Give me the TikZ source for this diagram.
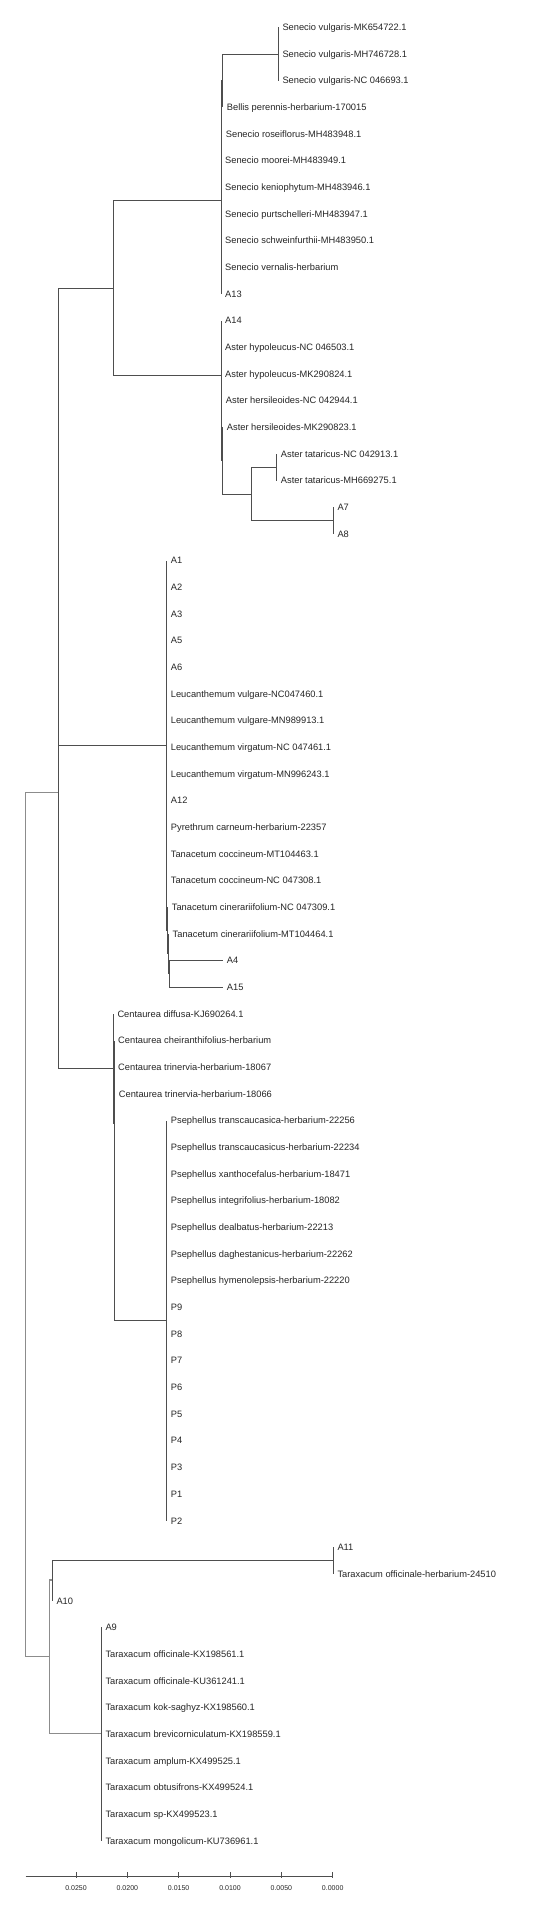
\documentclass[tikz,border=0pt]{standalone}
\usepackage{fontspec}
\setmainfont{Liberation Sans}
\usetikzlibrary{calc}
\definecolor{brc}{RGB}{78,78,78}
\definecolor{rootc}{RGB}{140,140,140}
\definecolor{txc}{RGB}{38,38,38}
\tikzset{
  br/.style={draw=brc, line width=0.9pt},
  rootbr/.style={draw=rootc, line width=1.1pt},
  lab/.style={anchor=base west, inner sep=0pt, text=txc, font=\fontsize{9.3}{11}\selectfont},
  axlab/.style={anchor=base, inner sep=0pt, text=txc, font=\fontsize{7}{8}\selectfont},
}
\newcommand\leaf[3]{%
  \coordinate (t#1) at (#2,{27.33+26.667*#1});
  \node[lab] (l#1) at ($(t#1)+(4,3.3)$) {#3};
}
\begin{document}
\begin{tikzpicture}[x=1pt,y=-1pt]
\fill[white] (0,0) rectangle (541,1932);
\useasboundingbox (0,0) rectangle (541,1932);

% ---- leaves ----
\leaf{0}{278.3}{Senecio vulgaris-MK654722.1}
\leaf{1}{278.3}{Senecio vulgaris-MH746728.1}
\leaf{2}{278.3}{Senecio vulgaris-NC 046693.1}
\leaf{3}{222.7}{Bellis perennis-herbarium-170015}
\leaf{4}{221.7}{Senecio roseiflorus-MH483948.1}
\leaf{5}{221}{Senecio moorei-MH483949.1}
\leaf{6}{221}{Senecio keniophytum-MH483946.1}
\leaf{7}{221}{Senecio purtschelleri-MH483947.1}
\leaf{8}{221}{Senecio schweinfurthii-MH483950.1}
\leaf{9}{221}{Senecio vernalis-herbarium}
\leaf{10}{221}{A13}
\leaf{11}{221}{A14}
\leaf{12}{221}{Aster hypoleucus-NC 046503.1}
\leaf{13}{221}{Aster hypoleucus-MK290824.1}
\leaf{14}{221.7}{Aster hersileoides-NC 042944.1}
\leaf{15}{222.7}{Aster hersileoides-MK290823.1}
\leaf{16}{276.7}{Aster tataricus-NC 042913.1}
\leaf{17}{276.7}{Aster tataricus-MH669275.1}
\leaf{18}{333.3}{A7}
\leaf{19}{333.3}{A8}
\leaf{20}{166.7}{A1}
\leaf{21}{166.7}{A2}
\leaf{22}{166.7}{A3}
\leaf{23}{166.7}{A5}
\leaf{24}{166.7}{A6}
\leaf{25}{166.7}{Leucanthemum vulgare-NC047460.1}
\leaf{26}{166.7}{Leucanthemum vulgare-MN989913.1}
\leaf{27}{166.7}{Leucanthemum virgatum-NC 047461.1}
\leaf{28}{166.7}{Leucanthemum virgatum-MN996243.1}
\leaf{29}{166.7}{A12}
\leaf{30}{166.7}{Pyrethrum carneum-herbarium-22357}
\leaf{31}{166.7}{Tanacetum coccineum-MT104463.1}
\leaf{32}{166.7}{Tanacetum coccineum-NC 047308.1}
\leaf{33}{167.7}{Tanacetum cinerariifolium-NC 047309.1}
\leaf{34}{168.5}{Tanacetum cinerariifolium-MT104464.1}
\leaf{35}{222.7}{A4}
\leaf{36}{222.7}{A15}
\leaf{37}{113.3}{Centaurea diffusa-KJ690264.1}
\leaf{38}{114}{Centaurea cheiranthifolius-herbarium}
\leaf{39}{114}{Centaurea trinervia-herbarium-18067}
\leaf{40}{114.7}{Centaurea trinervia-herbarium-18066}
\leaf{41}{166.7}{Psephellus transcaucasica-herbarium-22256}
\leaf{42}{166.7}{Psephellus transcaucasicus-herbarium-22234}
\leaf{43}{166.7}{Psephellus xanthocefalus-herbarium-18471}
\leaf{44}{166.7}{Psephellus integrifolius-herbarium-18082}
\leaf{45}{166.7}{Psephellus dealbatus-herbarium-22213}
\leaf{46}{166.7}{Psephellus daghestanicus-herbarium-22262}
\leaf{47}{166.7}{Psephellus hymenolepsis-herbarium-22220}
\leaf{48}{166.7}{P9}
\leaf{49}{166.7}{P8}
\leaf{50}{166.7}{P7}
\leaf{51}{166.7}{P6}
\leaf{52}{166.7}{P5}
\leaf{53}{166.7}{P4}
\leaf{54}{166.7}{P3}
\leaf{55}{166.7}{P1}
\leaf{56}{166.7}{P2}
\leaf{57}{333.3}{A11}
\leaf{58}{333.3}{Taraxacum officinale-herbarium-24510}
\leaf{59}{52.3}{A10}
\leaf{60}{101.3}{A9}
\leaf{61}{101.3}{Taraxacum officinale-KX198561.1}
\leaf{62}{101.3}{Taraxacum officinale-KU361241.1}
\leaf{63}{101.3}{Taraxacum kok-saghyz-KX198560.1}
\leaf{64}{101.3}{Taraxacum brevicorniculatum-KX198559.1}
\leaf{65}{101.3}{Taraxacum amplum-KX499525.1}
\leaf{66}{101.3}{Taraxacum obtusifrons-KX499524.1}
\leaf{67}{101.3}{Taraxacum sp-KX499523.1}
\leaf{68}{101.3}{Taraxacum mongolicum-KU736961.1}

% ---- internal nodes ----
\coordinate (V)    at (278.3,54);
\coordinate (N1)   at (222.7,80.7);
\coordinate (N2)   at (221.7,107.3);
\coordinate (N3)   at (221,200.7);
\coordinate (Tat)  at (276.7,467.3);
\coordinate (A78)  at (333.3,520.7);
\coordinate (TA)   at (251,494);
\coordinate (Na)   at (222.7,460.7);
\coordinate (Nb)   at (221.7,430.7);
\coordinate (Nc)   at (221,375.7);
\coordinate (SA)   at (113.7,288.2);
\coordinate (A415) at (169.3,973.3);
\coordinate (Nx)   at (168.5,953.3);
\coordinate (Ny)   at (167.7,930);
\coordinate (Nz)   at (166.7,745);
\coordinate (SAz)  at (58.8,516.6);
\coordinate (Ps)   at (166.7,1320);
\coordinate (Np)   at (114.7,1206.7);
\coordinate (Nq)   at (114,1123.3);
\coordinate (Nr)   at (113.3,1068.3);
\coordinate (Top)  at (58.3,792.5);
\coordinate (A11n) at (333.3,1560);
\coordinate (Ns)   at (52.3,1580);
\coordinate (Tx)   at (101.3,1733.3);
\coordinate (Tt)   at (49.3,1656.7);
\coordinate (Root) at (25.7,1224.6);

% ---- branches ----
\foreach \c in {t0,t1,t2} \draw[br] (V) |- (\c);
\draw[br] (N1) |- (V);  \draw[br] (N1) |- (t3);
\draw[br] (N2) |- (N1); \draw[br] (N2) |- (t4);
\draw[br] (N3) |- (N2);
\foreach \c in {t5,t6,t7,t8,t9,t10} \draw[br] (N3) |- (\c);
\foreach \c in {t16,t17} \draw[br] (Tat) |- (\c);
\foreach \c in {t18,t19} \draw[br] (A78) |- (\c);
\draw[br] (TA) |- (Tat); \draw[br] (TA) |- (A78);
\draw[br] (Na) |- (t15); \draw[br] (Na) |- (TA);
\draw[br] (Nb) |- (t14); \draw[br] (Nb) |- (Na);
\foreach \c in {t11,t12,t13} \draw[br] (Nc) |- (\c);
\draw[br] (Nc) |- (Nb);
\draw[br] (SA) |- (N3); \draw[br] (SA) |- (Nc);
\foreach \c in {t35,t36} \draw[br] (A415) |- (\c);
\draw[br] (Nx) |- (t34); \draw[br] (Nx) |- (A415);
\draw[br] (Ny) |- (t33); \draw[br] (Ny) |- (Nx);
\foreach \c in {t20,t21,t22,t23,t24,t25,t26,t27,t28,t29,t30,t31,t32} \draw[br] (Nz) |- (\c);
\draw[br] (Nz) |- (Ny);
\draw[br] (SAz) |- (SA); \draw[br] (SAz) |- (Nz);
\foreach \c in {t41,t42,t43,t44,t45,t46,t47,t48,t49,t50,t51,t52,t53,t54,t55,t56} \draw[br] (Ps) |- (\c);
\draw[br] (Np) |- (t40); \draw[br] (Np) |- (Ps);
\draw[br] (Nq) |- (t38); \draw[br] (Nq) |- (t39); \draw[br] (Nq) |- (Np);
\draw[br] (Nr) |- (t37); \draw[br] (Nr) |- (Nq);
\draw[br] (Top) |- (SAz); \draw[br] (Top) |- (Nr);
\foreach \c in {t57,t58} \draw[br] (A11n) |- (\c);
\draw[br] (Ns) |- (A11n); \draw[br] (Ns) |- (t59);
\foreach \c in {t60,t61,t62,t63,t64,t65,t66,t67,t68} \draw[br] (Tx) |- (\c);
\draw[rootbr] (Tt) |- (Ns); \draw[rootbr] (Tt) |- (Tx);
\draw[rootbr] (Root) |- (Top); \draw[rootbr] (Root) |- (Tt);

% ---- scale axis ----
\coordinate (ax0) at (25.7,1876.5);
\coordinate (ax1) at (332.7,1876.5);
\draw[br] (ax0) -- (ax1);
\foreach \i/\v in {0/0.0250,1/0.0200,2/0.0150,3/0.0100,4/0.0050,5/0.0000}{
  \coordinate (tk\i) at ({76+51.34*\i},1876.5);
  \draw[br] ($(tk\i)+(0,-4.5)$) -- ($(tk\i)+(0,1.8)$);
  \node[axlab] (tl\i) at ($(tk\i)+(0,13.8)$) {\v};
}
\end{tikzpicture}
\end{document}
